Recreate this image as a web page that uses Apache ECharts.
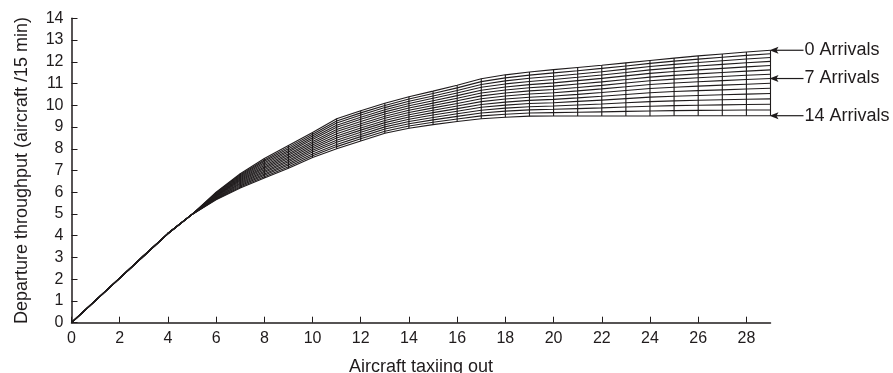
<!DOCTYPE html>
<html><head><meta charset="utf-8">
<script src="https://cdn.jsdelivr.net/npm/echarts@6/dist/echarts.min.js"></script>
<style>html,body{margin:0;padding:0;background:#fff}#c{width:893px;height:373px}</style>
</head><body><div id="c"></div>
<script>
// x values: aircraft taxiing out
const taxiing = [0,1,2,3,4,5,6,7,8,9,10,11,12,13,14,15,16,17,18,19,20,21,22,23,24,25,26,27,28,29];
// shared part of every curve (x = 0..5)
const sharedStart = [0, 1.03, 2.05, 3.08, 4.1, 4.98];
// departure throughput for x = 6..29, one array per number of arrivals
const arrivals0  = [6.00,6.85,7.55,8.15,8.75,9.38,9.75,10.09,10.39,10.65,10.92,11.22,11.40,11.53,11.64,11.74,11.84,11.95,12.06,12.17,12.27,12.36,12.45,12.53];
const arrivals1  = [5.975,6.803,7.486,8.075,8.668,9.281,9.651,9.991,10.286,10.54,10.801,11.089,11.261,11.385,11.488,11.591,11.695,11.809,11.925,12.03,12.124,12.209,12.295,12.37];
const arrivals2  = [5.95,6.757,7.421,8.00,8.586,9.183,9.551,9.893,10.183,10.43,10.681,10.957,11.121,11.24,11.336,11.439,11.545,11.661,11.78,11.879,11.968,12.048,12.128,12.20];
const arrivals3  = [5.925,6.71,7.357,7.925,8.503,9.084,9.452,9.794,10.079,10.32,10.562,10.826,10.982,11.095,11.184,11.287,11.393,11.509,11.629,11.722,11.805,11.88,11.955,12.02];
const arrivals4  = [5.90,6.664,7.293,7.85,8.421,8.986,9.353,9.696,9.976,10.21,10.443,10.694,10.843,10.95,11.031,11.133,11.236,11.35,11.466,11.553,11.629,11.698,11.767,11.83];
const arrivals5  = [5.875,6.618,7.229,7.775,8.339,8.887,9.254,9.597,9.872,10.10,10.324,10.563,10.704,10.805,10.879,10.976,11.074,11.183,11.295,11.375,11.445,11.508,11.571,11.63];
const arrivals6  = [5.85,6.571,7.164,7.70,8.257,8.789,9.154,9.499,9.769,9.99,10.204,10.431,10.564,10.66,10.727,10.82,10.917,11.021,11.129,11.203,11.266,11.323,11.381,11.43];
const arrivals7  = [5.825,6.525,7.10,7.625,8.175,8.69,9.055,9.40,9.665,9.88,10.085,10.30,10.425,10.515,10.575,10.663,10.754,10.854,10.958,11.025,11.082,11.133,11.184,11.23];
const arrivals8  = [5.80,6.478,7.036,7.55,8.093,8.591,8.956,9.301,9.561,9.77,9.966,10.169,10.286,10.37,10.423,10.503,10.586,10.677,10.772,10.832,10.881,10.926,10.97,11.01];
const arrivals9  = [5.775,6.432,6.971,7.475,8.011,8.493,8.856,9.203,9.458,9.66,9.846,10.037,10.146,10.225,10.271,10.341,10.414,10.494,10.578,10.63,10.672,10.71,10.748,10.78];
const arrivals10 = [5.75,6.386,6.907,7.40,7.929,8.394,8.757,9.104,9.354,9.55,9.727,9.906,10.007,10.08,10.119,10.177,10.238,10.304,10.374,10.418,10.452,10.483,10.513,10.54];
const arrivals11 = [5.725,6.339,6.843,7.325,7.846,8.296,8.658,9.006,9.251,9.44,9.608,9.774,9.868,9.935,9.967,10.013,10.06,10.114,10.168,10.204,10.23,10.253,10.276,10.295];
const arrivals12 = [5.70,6.293,6.779,7.25,7.764,8.197,8.559,8.907,9.147,9.33,9.489,9.643,9.729,9.79,9.814,9.847,9.88,9.918,9.956,9.984,10.001,10.017,10.033,10.045];
const arrivals13 = [5.675,6.246,6.714,7.175,7.682,8.099,8.459,8.809,9.044,9.22,9.369,9.511,9.589,9.645,9.662,9.679,9.697,9.717,9.737,9.756,9.765,9.773,9.781,9.785];
const arrivals14 = [5.65,6.20,6.65,7.10,7.60,8.00,8.36,8.71,8.94,9.11,9.25,9.38,9.45,9.50,9.51,9.51,9.51,9.51,9.51,9.52,9.52,9.52,9.52,9.52];

const xTicks = [0,2,4,6,8,10,12,14,16,18,20,22,24,26,28];
const yTicks = [0,1,2,3,4,5,6,7,8,9,10,11,12,13,14];
const labelledArrivals = [0, 7, 14];
const labelTexts = ['0 Arrivals', '7 Arrivals', '14 Arrivals'];

const allArrivals = [arrivals0,arrivals1,arrivals2,arrivals3,arrivals4,arrivals5,arrivals6,arrivals7,
  arrivals8,arrivals9,arrivals10,arrivals11,arrivals12,arrivals13,arrivals14];
const curves = allArrivals.map(a => sharedStart.concat(a));

const INK = '#1f1b1c';
const FONT = "'Liberation Sans', Arial, Helvetica, sans-serif";
const lineStyle = { color: INK, width: 1.1 };

const series = [];
curves.forEach((c, k) => {
  series.push({
    type: 'line', name: 'arr' + k, showSymbol: false, silent: true, animation: false,
    data: c.map((y, i) => [taxiing[i], y]), lineStyle: lineStyle, clip: false
  });
});
// vertical connectors at each x
taxiing.forEach((x, i) => {
  if (i < 6) return;
  series.push({
    type: 'line', showSymbol: false, silent: true, animation: false,
    data: curves.map(c => [x, c[i]]), lineStyle: lineStyle, clip: false
  });
});

const chart = echarts.init(document.getElementById('c'), null, { renderer: 'canvas' });
chart.setOption({
  animation: false,
  backgroundColor: '#fff',
  grid: { left: 71.5, right: 122.5, top: 18.3, bottom: 50.3, outerBoundsMode: 'none' },
  xAxis: {
    type: 'value', min: 0, max: 29,
    name: 'Aircraft taxiing out', nameLocation: 'middle', nameGap: 35,
    nameTextStyle: { fontFamily: FONT, fontSize: 18, color: INK },
    axisLine: { show: true, onZero: false, lineStyle: { color: INK, width: 1.5 } },
    axisTick: { show: true, inside: true, length: 6, customValues: xTicks, lineStyle: { color: INK, width: 1 } },
    axisLabel: { customValues: xTicks, margin: 8, fontFamily: FONT, fontSize: 16, color: INK },
    splitLine: { show: false }
  },
  yAxis: {
    type: 'value', min: 0, max: 14, interval: 1,
    name: 'Departure throughput (aircraft /15 min)', nameLocation: 'middle', nameGap: 40,
    nameTextStyle: { fontFamily: FONT, fontSize: 18, color: INK },
    axisLine: { show: true, lineStyle: { color: INK, width: 1.5 } },
    axisTick: { show: true, inside: true, length: 6, customValues: yTicks, lineStyle: { color: INK, width: 1 } },
    axisLabel: { customValues: yTicks, margin: 8, fontFamily: FONT, fontSize: 16, color: INK },
    splitLine: { show: false }
  },
  series: series
});

// arrows + labels anchored at curve ends through the chart's scales
const graphics = [];
labelledArrivals.forEach((k, j) => {
  const c = curves[k];
  const p = chart.convertToPixel({ gridIndex: 0 }, [taxiing[taxiing.length - 1], c[c.length - 1]]);
  const tipX = p[0] - 1, y = p[1];
  graphics.push({ type: 'line', shape: { x1: tipX + 4, y1: y, x2: tipX + 34, y2: y }, style: { stroke: INK, lineWidth: 1.2 }, silent: true });
  graphics.push({ type: 'polygon', shape: { points: [[tipX, y], [tipX + 9, y - 3.5], [tipX + 7, y], [tipX + 9, y + 3.5]] }, style: { fill: INK }, silent: true });
  graphics.push({ type: 'text', x: tipX + 35, y: y, style: { text: labelTexts[j], font: '18px ' + FONT, fill: INK, textVerticalAlign: 'middle', verticalAlign: 'middle' }, silent: true });
});
chart.setOption({ graphic: graphics });
</script>
</body></html>
